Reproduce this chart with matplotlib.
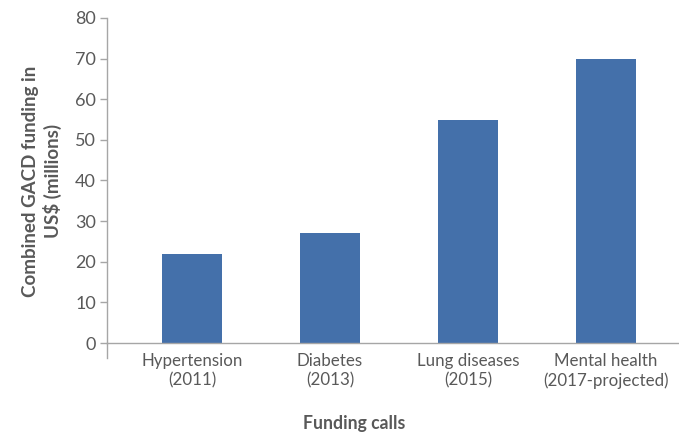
import matplotlib
matplotlib.use("Agg")
import matplotlib.pyplot as plt

categories = ["Hypertension\n(2011)", "Diabetes\n(2013)", "Lung diseases\n(2015)", "Mental health\n(2017-projected)"]
funding = [22, 27, 55, 70]
yticks = [0, 10, 20, 30, 40, 50, 60, 70, 80]

plt.rcParams["font.family"] = ["Lato", "DejaVu Sans"]

axis_gray = "#A6A6A6"
text_gray = "#595959"
bar_blue = "#4470AA"

fig = plt.figure(figsize=(6.79, 4.36), dpi=100)
ax = fig.add_axes([107 / 679, 1 - 343 / 436, 1 - 107 / 679, (343 - 18) / 436])

x = list(range(len(categories)))
ax.bar(x, funding, width=0.435, color=bar_blue, zorder=2)

ax.set_xlim(-0.616, 3.53)
ax.set_ylim(0, 80)
ax.set_yticks(yticks)
ax.set_xticks(x)
ax.set_xticklabels(categories, fontsize=12.2, color=text_gray, linespacing=1.25)
ax.tick_params(axis="y", labelsize=13, colors=text_gray, length=5, width=1, color=axis_gray, pad=3)
ax.tick_params(axis="x", length=0, pad=7)

for s in ["top", "right"]:
    ax.spines[s].set_visible(False)
for s in ["left", "bottom"]:
    ax.spines[s].set_color(axis_gray)
    ax.spines[s].set_linewidth(1)

# left axis line continues a little below the baseline
ax.axvline(ax.get_xlim()[0], ymin=-0.046, ymax=0, color=axis_gray, lw=1, clip_on=False)

fig.text(42 / 679, 1 - 181 / 436, "Combined GACD funding in\nUS$ (millions)", rotation=90,
         ha="center", va="center", fontsize=13.5, fontweight="bold", color=text_gray, linespacing=1.2)
fig.text(354 / 679, 1 - 423 / 436, "Funding calls", ha="center", va="center",
         fontsize=12.7, fontweight="bold", color=text_gray)

fig.savefig("out.png", dpi=100)
